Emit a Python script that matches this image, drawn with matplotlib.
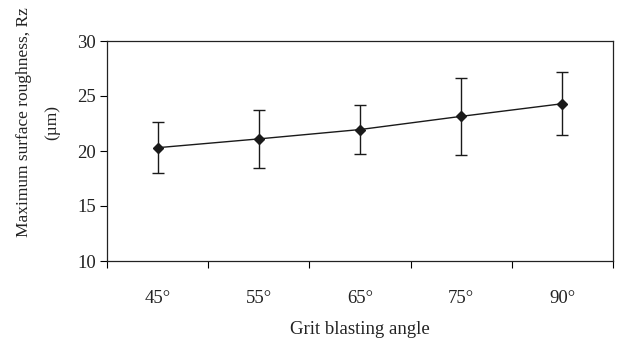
import numpy as np
import matplotlib.pyplot as plt

plt.rcParams['font.family'] = ['Liberation Serif', 'DejaVu Serif']

angles = ["45°", "55°", "65°", "75°", "90°"]
rz = [20.3, 21.1, 21.95, 23.15, 24.3]
rz_err = [2.3, 2.6, 2.2, 3.5, 2.85]

fig = plt.figure(figsize=(6.41, 3.46), dpi=100)
ax = fig.add_axes([107 / 641, 1 - 261 / 346, 506 / 641, 220 / 346])

x = np.arange(len(angles))
ax.errorbar(x, rz, yerr=rz_err, color="#1a1a1a", lw=1.0, marker="D", ms=5,
            capsize=4, elinewidth=1.0, capthick=1.0)

ax.set_xlim(-0.5, len(angles) - 0.5)
ax.set_ylim(10, 30)
ax.set_yticks([10, 15, 20, 25, 30])
ax.set_xticks(x)
ax.set_xticklabels(angles)
ax.set_xticks(np.arange(-0.5, len(angles), 1.0), minor=True)
ax.tick_params(axis="x", which="major", length=0, pad=21, labelsize=13.5, labelcolor="#222222")
ax.tick_params(axis="x", which="minor", length=5, direction="out", width=0.8)
ax.tick_params(axis="y", length=5, direction="out", width=0.8, pad=3, labelsize=13.5,
               labelcolor="#222222")

for s in ax.spines.values():
    s.set_linewidth(0.9)
    s.set_color("#222222")

ax.set_xlabel("Grit blasting angle", fontsize=13.5, color="#222222", labelpad=10)
ax.set_ylabel("Maximum surface roughness, Rz\n(\u00b5m)", fontsize=12.5, color="#222222",
              linespacing=2.0)
ax.yaxis.set_label_coords(-0.092, 0.63)

fig.savefig("out.png", dpi=100)
